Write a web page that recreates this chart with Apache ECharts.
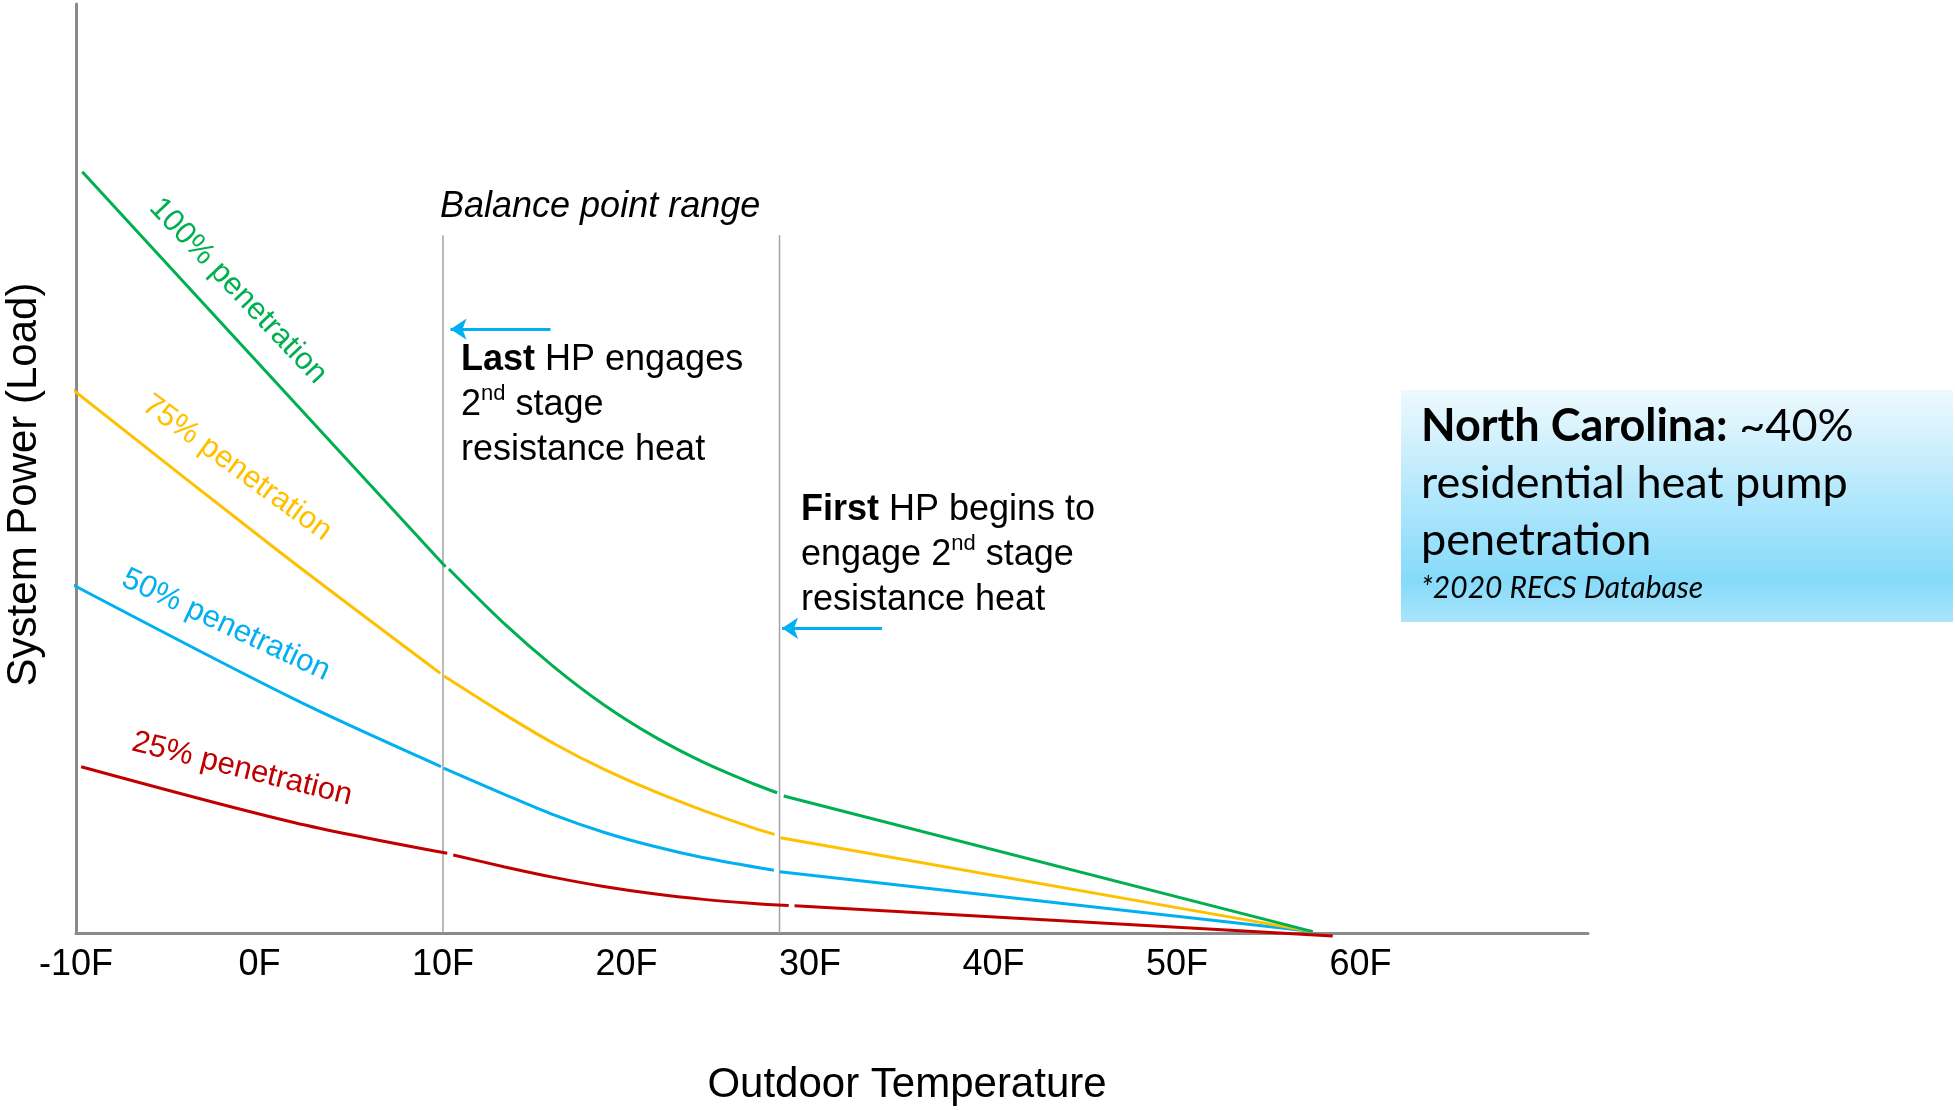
<!DOCTYPE html>
<html>
<head>
<meta charset="utf-8">
<title>System Power vs Outdoor Temperature</title>
<script src="https://cdn.jsdelivr.net/npm/echarts@6/dist/echarts.min.js"></script>
<style>
  html, body { margin: 0; padding: 0; background: #ffffff; }
  #chart { width: 1955px; height: 1110px; }
</style>
</head>
<body>
<div id="chart"></div>
<script>
// Temperature tick labels (°F), one per 10-degree tick starting at -10
const tempTicks = ['-10F', '0F', '10F', '20F', '30F', '40F', '50F', '60F'];

// System load curves: [outdoor temperature °F, relative load].
// null separates the pieces (cold end / balance range / mild end).
const load100 = [
  [-9.66, 81.95], [10.14, 39.43], null,
  [10.32, 39.18], [13.31, 33.35], [16.04, 28.65], [18.76, 24.57], [21.49, 21.16],
  [24.21, 18.36], [26.94, 16.04], [28.21, 15.10], null,
  [28.57, 14.75], [57.40, 0.15]
];
const load75 = [
  [-10.21, 58.53], [0.96, 41.23], [9.86, 27.95], null,
  [10.05, 27.66], [13.31, 23.59], [16.04, 20.40], [18.76, 17.63], [21.49, 15.26],
  [24.21, 13.17], [26.94, 11.29], [28.07, 10.61], null,
  [28.39, 10.26], [57.40, 0.15]
];
const load50 = [
  [-10.15, 37.46], [1.87, 25.20], [9.89, 17.92], null,
  [10.03, 17.76], [13.31, 14.96], [16.04, 12.72], [18.76, 10.85], [21.49, 9.33],
  [24.21, 8.10], [28.03, 6.75], null,
  [28.35, 6.60], [57.40, 0.15]
];
const load25 = [
  [-9.72, 17.90], [1.87, 11.90], [10.23, 8.58], null,
  [10.56, 8.40], [13.31, 7.14], [16.04, 5.99], [18.76, 5.01], [21.49, 4.22],
  [24.21, 3.62], [26.94, 3.18], [28.84, 2.95], null,
  [29.16, 2.94], [58.49, -0.32]
];

// Balance point range: last / first heat pump switching to 2nd stage heat
const balanceTemps = [10, 28.34];
const balanceTop = 75.1;
// Arrow annotations pointing at the balance lines: [fromTemp, toTemp, load]
const arrowLast = [15.86, 10.41, 65.0];
const arrowFirst = [33.93, 28.48, 32.8];

const FONT = "'Liberation Sans', Arial, sans-serif";
const BOX_FONT = "Lato, 'Open Sans', sans-serif";

const chart = echarts.init(document.getElementById('chart'), null, { renderer: 'canvas' });

function curve(name, data, color) {
  return {
    name: name,
    type: 'line',
    data: data,
    smooth: 0.3,
    connectNulls: false,
    showSymbol: false,
    symbol: 'none',
    clip: false,
    z: 5,
    lineStyle: { color: color, width: 3 },
    emphasis: { disabled: true }
  };
}

function balanceLine(t) {
  return {
    type: 'line',
    data: [[t, 0], [t, balanceTop]],
    symbol: 'none',
    clip: false,
    z: 2,
    lineStyle: { color: '#a3a3a3', width: 1.5 },
    emphasis: { disabled: true }
  };
}

function arrow(a) {
  return {
    type: 'lines',
    coordinateSystem: 'cartesian2d',
    symbol: ['none', 'arrow'],
    symbolSize: [13, 16],
    z: 6,
    lineStyle: { color: '#00B0F0', width: 3, opacity: 1 },
    data: [{ coords: [[a[0], a[2]], [a[1], a[2]]] }]
  };
}

const option = {
  animation: false,
  backgroundColor: '#ffffff',
  grid: { left: 76, right: 367, top: 4, bottom: 177, outerBoundsMode: 'none', containLabel: false },
  xAxis: {
    type: 'value',
    min: -10,
    max: 72.4,
    interval: 10,
    name: 'Outdoor Temperature',
    nameLocation: 'middle',
    nameGap: 131,
    nameTextStyle: { fontFamily: FONT, fontSize: 42, color: '#000', padding: [0, 0, 0, 150] },
    axisLine: { lineStyle: { color: '#8a8a8a', width: 3 } },
    axisTick: { show: false },
    splitLine: { show: false },
    axisLabel: {
      fontFamily: FONT,
      fontSize: 36,
      color: '#000',
      margin: 14,
      showMaxLabel: false,
      formatter: function (v) { return tempTicks[Math.round((v + 10) / 10)] || ''; }
    }
  },
  yAxis: {
    type: 'value',
    min: 0,
    max: 100,
    name: 'System Power (Load)',
    nameLocation: 'middle',
    nameRotate: 90,
    nameGap: 31,
    nameTextStyle: { fontFamily: FONT, fontSize: 42, color: '#000', padding: [0, 32, 0, 0] },
    axisLine: { show: true, onZero: false, lineStyle: { color: '#8a8a8a', width: 3 } },
    axisTick: { show: false },
    axisLabel: { show: false },
    splitLine: { show: false }
  },
  series: [
    balanceLine(balanceTemps[0]),
    balanceLine(balanceTemps[1]),
    curve('25% penetration', load25, '#C00000'),
    curve('50% penetration', load50, '#00B0F0'),
    curve('75% penetration', load75, '#FFC000'),
    curve('100% penetration', load100, '#00B050'),
    arrow(arrowLast),
    arrow(arrowFirst)
  ],
  graphic: [
    // curve labels
    { type: 'text', x: 238, y: 291, rotation: -46.5 * Math.PI / 180,
      style: { text: '100% penetration', font: '31px ' + FONT, fill: '#00B050', align: 'center', verticalAlign: 'middle' } },
    { type: 'text', x: 237, y: 468, rotation: -36 * Math.PI / 180,
      style: { text: '75% penetration', font: '31px ' + FONT, fill: '#FFC000', align: 'center', verticalAlign: 'middle' } },
    { type: 'text', x: 226, y: 625, rotation: -25 * Math.PI / 180,
      style: { text: '50% penetration', font: '31px ' + FONT, fill: '#00B0F0', align: 'center', verticalAlign: 'middle' } },
    { type: 'text', x: 242, y: 769, rotation: -14 * Math.PI / 180,
      style: { text: '25% penetration', font: '31px ' + FONT, fill: '#C00000', align: 'center', verticalAlign: 'middle' } },

    // balance point annotations
    { type: 'text', x: 440, y: 207,
      style: { text: 'Balance point range', font: 'italic 36px ' + FONT, fill: '#000', align: 'left', verticalAlign: 'middle' } },
    { type: 'text', x: 461, y: 338,
      style: {
        text: '{b|Last} HP engages\n2{s|nd} stage\nresistance heat',
        font: '36px ' + FONT, fill: '#000', align: 'left', verticalAlign: 'top', lineHeight: 45,
        rich: {
          b: { font: 'bold 36px ' + FONT, fill: '#000', lineHeight: 45 },
          s: { font: '22px ' + FONT, fill: '#000', verticalAlign: 'top', lineHeight: 45 }
        }
      } },
    { type: 'text', x: 801, y: 488,
      style: {
        text: '{b|First} HP begins to\nengage 2{s|nd} stage\nresistance heat',
        font: '36px ' + FONT, fill: '#000', align: 'left', verticalAlign: 'top', lineHeight: 45,
        rich: {
          b: { font: 'bold 36px ' + FONT, fill: '#000', lineHeight: 45 },
          s: { font: '22px ' + FONT, fill: '#000', verticalAlign: 'top', lineHeight: 45 }
        }
      } },

    // North Carolina info box
    { type: 'rect', shape: { x: 1401, y: 390, width: 552, height: 232 }, z: 1,
      style: {
        fill: new echarts.graphic.LinearGradient(0, 0, 0, 1, [
          { offset: 0, color: '#EEF9FE' },
          { offset: 0.45, color: '#B3E8FC' },
          { offset: 0.82, color: '#86DAFA' },
          { offset: 1, color: '#A9E5FB' }
        ])
      } },
    { type: 'text', x: 1421, y: 398, z: 2,
      style: {
        text: '{b|North Carolina:} ~40%\nresidential heat pump\npenetration',
        font: '45px ' + BOX_FONT, fill: '#000', align: 'left', verticalAlign: 'top', lineHeight: 57,
        rich: { b: { font: 'bold 45px ' + BOX_FONT, fill: '#000', lineHeight: 57 } }
      } },
    { type: 'text', x: 1421, y: 588, z: 2,
      style: { text: '*2020 RECS Database', font: 'italic 30px ' + BOX_FONT, fill: '#000', align: 'left', verticalAlign: 'middle' } }
  ]
};

chart.setOption(option);
</script>
</body>
</html>
